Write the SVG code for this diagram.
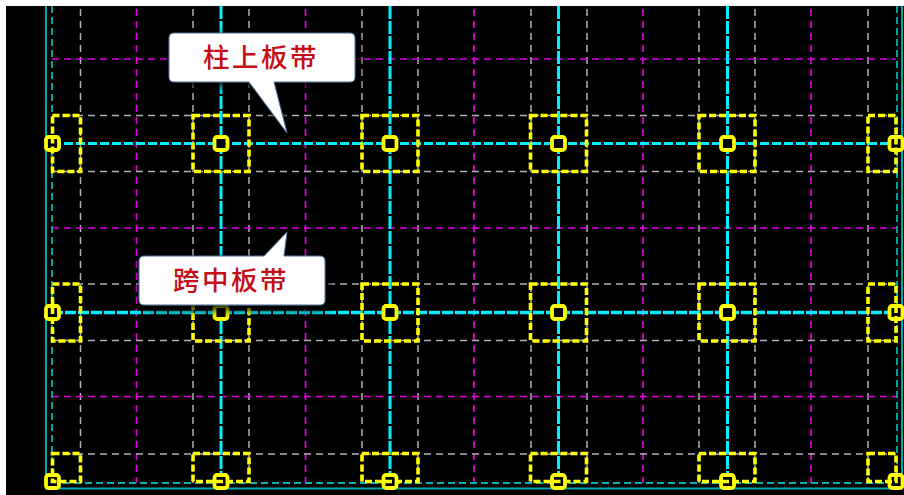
<svg xmlns="http://www.w3.org/2000/svg" width="904" height="495" viewBox="0 0 904 495">
<style>
.g{stroke:#b4b4b4;stroke-width:1.5;stroke-dasharray:7 5;fill:none}
.m{stroke:#e000e0;stroke-width:1.7;stroke-dasharray:7 5;fill:none}
.c{stroke:#00f0ff;stroke-width:3;stroke-dasharray:13 2;fill:none}
.h{stroke:#00f0ff;stroke-width:2.8;stroke-dasharray:9 3;fill:none}
.h2{stroke:#00f0ff;stroke-width:3.4;stroke-dasharray:11 2;fill:none}
.t{stroke:#00b4b4;stroke-width:1.8;stroke-dasharray:7 4;fill:none}
.s{stroke:#00a8a8;stroke-width:2;fill:none}
.y{stroke:#ffff00;stroke-width:3.6;stroke-dasharray:7 3;fill:none}
.k{stroke:#ffff00;stroke-width:3.8;fill:#000}
.b{fill:#fff;stroke:#4a6a90;stroke-width:1;stroke-linejoin:round;filter:url(#sh)}
.l{font-family:"Noto Sans CJK SC","Liberation Serif",serif;font-size:26.500px;font-weight:500;letter-spacing:2.500px;fill:#c40d14;text-anchor:middle}
</style>
<defs>
<filter id="sh" x="-20%" y="-30%" width="140%" height="170%"><feGaussianBlur in="SourceAlpha" stdDeviation="5"/><feOffset dx="3" dy="4"/><feMerge><feMergeNode/><feMergeNode in="SourceGraphic"/></feMerge></filter>
<rect id="k" x="-6.500" y="-6.500" width="13" height="13" rx="2.500" class="k"/>
</defs>
<rect x="0" y="0" width="904" height="495" fill="#fff"/>
<rect x="6" y="6" width="898" height="489" fill="#000"/>
<g id="connectors">
<path class="g" d="M80.500 9V483M193 9V483M249 9V483M362 9V483M418 9V483M531 9V483M587 9V483M699 9V483M755 9V483M868 9V483"/>
<path class="m" d="M136.500 9V483M305.500 9V483M474 9V483M643 9V483M811 9V483"/>
<path class="g" d="M52 115.500H896M52 171.500H896M52 284H896M52 340.500H896M52 454H896"/>
<path class="m" d="M52 59H896M52 228H896M52 396.500H896"/>
<path class="c" d="M221 6V476M390 6V476M558.500 6V476M727.500 6V476"/>
<path class="h" d="M52 143.500H896"/>
<path class="h2" d="M52 312.500H896"/>
<path class="t" d="M52 6V483M897 6V483M52 483H896"/>
<path class="s" d="M46 6V488.500H902V6"/>
</g>
<g id="columns">
<use href="#k" x="52.500" y="143.500"/><use href="#k" x="221" y="143.500"/><use href="#k" x="390" y="143.500"/><use href="#k" x="558.500" y="143.500"/><use href="#k" x="727.500" y="143.500"/><use href="#k" x="896" y="143.500"/>
<use href="#k" x="52.500" y="312.500"/><use href="#k" x="221" y="312.500"/><use href="#k" x="390" y="312.500"/><use href="#k" x="558.500" y="312.500"/><use href="#k" x="727.500" y="312.500"/><use href="#k" x="896" y="312.500"/>
<use href="#k" x="52.500" y="481.500"/><use href="#k" x="221" y="481.500"/><use href="#k" x="390" y="481.500"/><use href="#k" x="558.500" y="481.500"/><use href="#k" x="727.500" y="481.500"/><use href="#k" x="896" y="481.500"/>
</g>
<g id="caps">
<rect class="y" x="52.500" y="115.500" width="28" height="56"/><rect class="y" x="193" y="115.500" width="56" height="56"/><rect class="y" x="362" y="115.500" width="56" height="56"/><rect class="y" x="530.500" y="115.500" width="56" height="56"/><rect class="y" x="699" y="115.500" width="56" height="56"/><rect class="y" x="868" y="115.500" width="28" height="56"/>
<rect class="y" x="52.500" y="284" width="28" height="57"/><rect class="y" x="193" y="284" width="56" height="57"/><rect class="y" x="362" y="284" width="56" height="57"/><rect class="y" x="530.500" y="284" width="56" height="57"/><rect class="y" x="699" y="284" width="56" height="57"/><rect class="y" x="868" y="284" width="28" height="57"/>
<rect class="y" x="52.500" y="453.500" width="28" height="28"/><rect class="y" x="193" y="453.500" width="56" height="28"/><rect class="y" x="362" y="453.500" width="56" height="28"/><rect class="y" x="530.500" y="453.500" width="56" height="28"/><rect class="y" x="699" y="453.500" width="56" height="28"/><rect class="y" x="868" y="453.500" width="28" height="28"/>
</g>
<g id="callout-column-strip">
<path class="b" d="M174 33H350Q355 33 355 38V77Q355 82 350 82H274L287 133L249 82H174Q169 82 169 77V38Q169 33 174 33Z"/>
<text class="l" x="261" y="67">柱上板带</text>
</g>
<g id="callout-middle-strip">
<path class="b" d="M144 256H264L287 232L284 256H320Q325 256 325 261V300Q325 305 320 305H144Q139 305 139 300V261Q139 256 144 256Z"/>
<text class="l" x="231" y="290">跨中板带</text>
</g>
</svg>
